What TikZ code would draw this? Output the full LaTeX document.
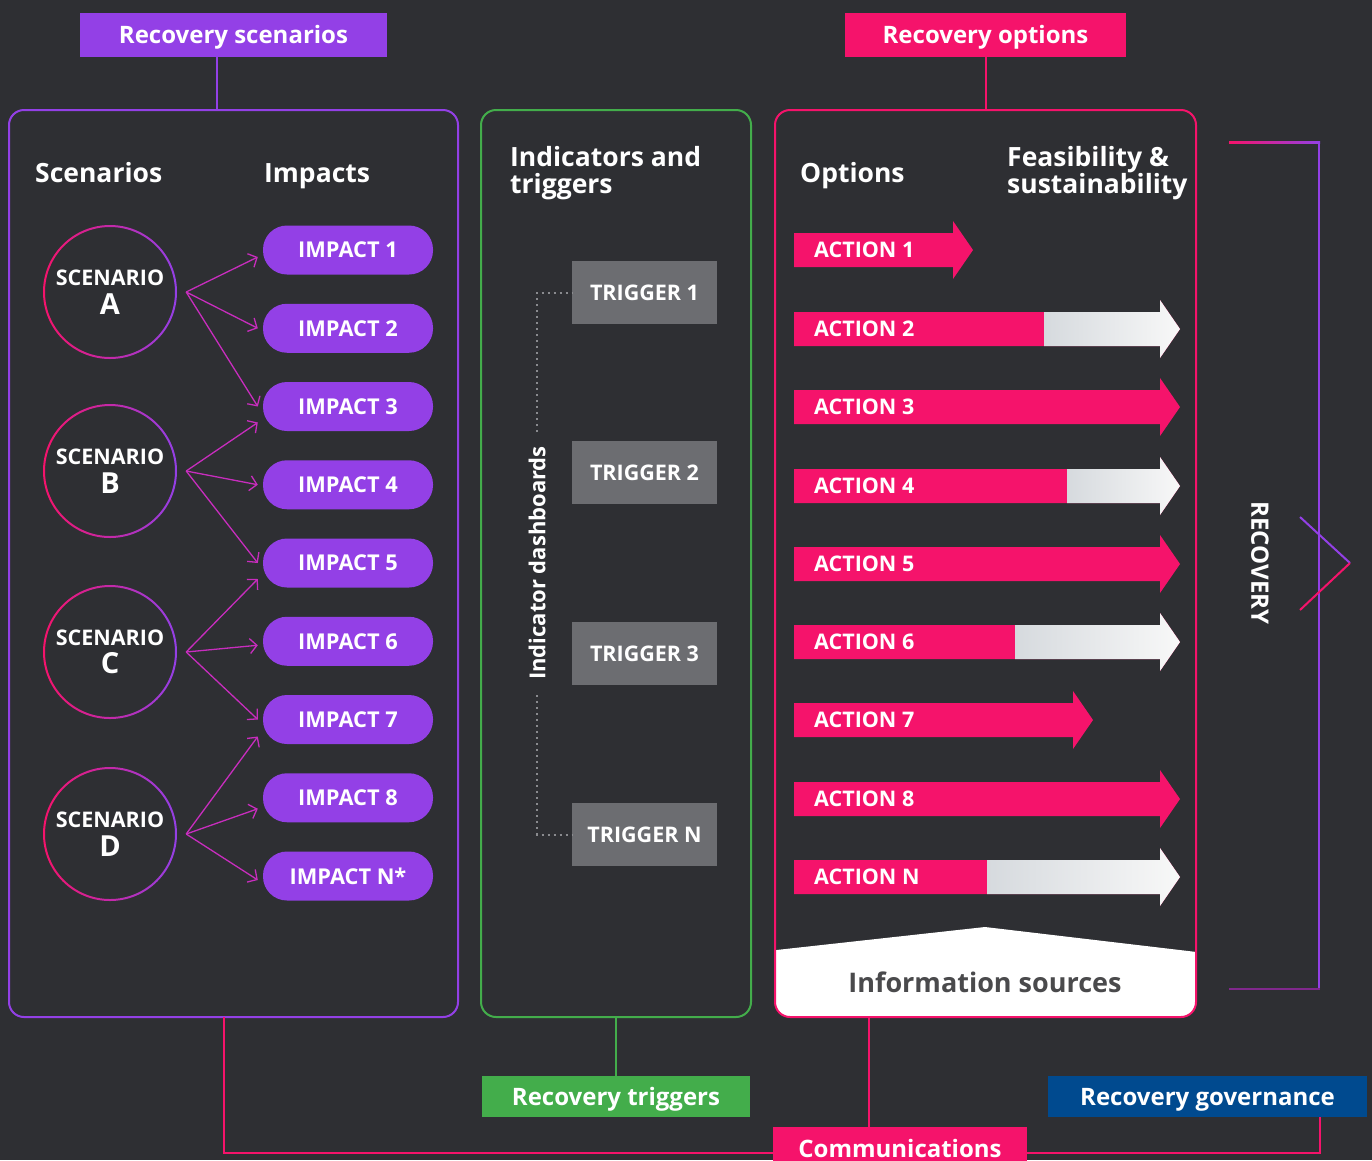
\documentclass[tikz,border=0pt]{standalone}
\usepackage{fontspec}
\setmainfont{Open Sans}
\usetikzlibrary{arrows.meta,positioning}

\definecolor{bgdark}{RGB}{46,47,51}
\definecolor{recpurple}{RGB}{147,64,230}
\definecolor{recpink}{RGB}{245,19,107}
\definecolor{recgreen}{RGB}{67,173,75}
\definecolor{recblue}{RGB}{0,74,143}
\definecolor{triggray}{RGB}{108,109,113}
\definecolor{dotgray}{RGB}{138,139,143}
\definecolor{infogray}{RGB}{74,74,76}
\definecolor{fadegray}{RGB}{214,218,222}
\definecolor{fadewhite}{RGB}{248,248,248}
\definecolor{linkmix}{RGB}{200,45,190}
\definecolor{darkplum}{RGB}{128,40,140}

\tikzset{
  panel/.style={draw=#1, line width=2pt, rounded corners=15pt, minimum height=907pt, inner sep=0pt},
  labelbox/.style={fill=#1, text=white, font=\fontsize{24}{30}\selectfont\bfseries, minimum height=44pt, inner sep=0pt, text height=17pt, text depth=0pt},
  heading/.style={text=white, font=\fontsize{26.5}{27}\selectfont\bfseries, inner sep=0pt, align=left},
  pill/.style={fill=recpurple, rounded corners=24pt, minimum width=170pt, minimum height=49pt, text=white, font=\fontsize{21.8}{26}\selectfont\bfseries},
  scen/.style={circle, minimum size=132pt, inner sep=0pt, text=white, align=center, font=\fontsize{21.5}{28.5}\selectfont\bfseries},
  trigbox/.style={fill=triggray, minimum width=145pt, minimum height=63pt, text=white, font=\fontsize{21.5}{26}\selectfont\bfseries},
  acttext/.style={anchor=west, text=white, inner sep=0pt, font=\fontsize{21.5}{26}\selectfont\bfseries},
  link/.style={line width=1.3pt, draw=linkmix, -{Straight Barb[length=7pt,width=15pt]}},
  dots/.style={draw=dotgray, line width=2pt, dash pattern=on 2pt off 4pt},
  joint/.style={line width=2pt, draw=#1},
}

\begin{document}
\begin{tikzpicture}[x=1pt, y=-1pt]
\fill[bgdark] (0,0) rectangle (1372,1160);
\clip (0,0) rectangle (1372,1160);

% white footer of the options panel
\begin{scope}
  \clip (770,950.7) -- (985,927) -- (1200,952.4) -- (1200,1030) -- (770,1030) -- cycle;
  \fill[white, rounded corners=15pt] (775,110) rectangle (1196,1017);
\end{scope}

% the three panels
\node[panel=recpurple, minimum width=449pt] (scenpanel) at (233.5,563.5) {};
\node[panel=recgreen, minimum width=270pt] (trigpanel) at (616,563.5) {};
\node[panel=recpink, minimum width=421pt] (optpanel) at (985.5,563.5) {};

% labels round the panels
\node[labelbox=recpurple, minimum width=307pt] (recscen) at (233.5,35) {Recovery scenarios};
\node[labelbox=recpink, minimum width=281pt] (recopt) at (985.5,35) {Recovery options};
\node[labelbox=recgreen, minimum width=268pt, minimum height=41pt] (rectrig) at (616,1096.5) {Recovery triggers};
\node[labelbox=recblue, minimum width=319pt, minimum height=41pt] (recgov) at (1207.5,1096.5) {Recovery governance};
\node[labelbox=recpink, minimum width=254pt, anchor=north] (comms) at (900,1127) {Communications};

\draw[joint=recpurple] ([xshift=-16.5pt]recscen.south) -- ([xshift=-16.5pt]scenpanel.north);
\draw[joint=recpink] (recopt.south) -- (optpanel.north);
\draw[joint=recgreen] (trigpanel.south) -- (rectrig.north);
\coordinate (cl) at (224,1017);
\coordinate (cm) at (869,1017);
\coordinate (cg) at (1320,1117);
\draw[joint=recpink] (cl) |- ([yshift=-4pt]comms.west);
\draw[joint=recpink] (cm) -- (cm |- comms.north);
\draw[joint=recpink] (cg) |- ([yshift=-4pt]comms.east);

% headings
\node[heading, anchor=base west] (hscen) at (35,182) {Scenarios};
\node[heading, anchor=base west] (himp) at (264,182) {Impacts};
\node[heading, anchor=north west] (hind) at (510,146) {Indicators and\\triggers};
\node[heading, anchor=base west] (hopt) at (800,182) {Options};
\node[heading, anchor=north west] (hfeas) at (1007,146) {Feasibility \&\\sustainability};

% scenarios and impacts
\foreach \id/\txt [count=\k from 0] in {1/1,2/2,3/3,4/4,5/5,6/6,7/7,8/8,N/N*}
  \node[pill] (i\id) at (348,{250+78.25*\k}) {IMPACT \txt};
\foreach \l/\y in {A/292,B/471,C/652,D/834} {
  \node[scen] (s\l) at (110,\y) {SCENARIO\\{\fontsize{29}{29}\selectfont\l}};
  \shade[left color=recpink, right color=recpurple, even odd rule]
    (s\l.center) circle (67pt) (s\l.center) circle (65pt);
}
\foreach \s/\i/\dy in {A/1/-7,A/2/0,A/3/0,B/3/-16,B/4/0,B/5/0,C/5/-16,C/6/-4,C/7/0,D/7/-17,D/8/-11,D/N/-4}
  \draw[link] ([xshift=10pt]s\s.east) -- ([xshift=-5pt,yshift=\dy pt]i\i.west);

% triggers
\foreach \n/\y in {1/292.5,2/472.5,3/653.5,N/834.5}
  \node[trigbox] (t\n) at (644.5,\y) {TRIGGER \n};
\coordinate (dtop) at (537,432);
\coordinate (dbot) at (537,695);
\draw[dots] (dtop) |- (t1.west);
\draw[dots] (dbot) |- (tN.west);
\node[rotate=90, text=white, font=\fontsize{22}{26}\selectfont\bfseries] (dash) at (537,563) {Indicator dashboards};

% options
\foreach \n/\y/\tip in {1/250/973,2/329/1180,3/407/1180,4/486/1180,5/564/1180,6/642/1180,7/720/1093,8/799/1180,N/877/1180} {
  \fill[recpink] (794,{\y-17}) -| ({\tip-20},{\y-29}) -- (\tip,\y) -- ({\tip-20},{\y+29}) |- (794,{\y+17}) -- cycle;
  \node[acttext] (a\n) at (814,\y) {ACTION \n};
}
\foreach \y/\s in {329/1044,486/1067,642/1015,877/987}
  \shade[left color=fadegray, right color=fadewhite] (\s,{\y-17}) -| (1160,{\y-29}) -- (1180,\y) -- (1160,{\y+29}) |- (\s,{\y+17}) -- cycle;
\node[text=infogray, font=\fontsize{27}{30}\selectfont\bfseries] (info) at (985,982) {Information sources};

% recovery bracket
\shade[left color=recpink, right color=recpurple] (1229,141) rectangle (1320,143);
\draw[recpurple, line width=2pt] (1319,142) -- (1319,989);
\draw[darkplum, line width=2pt] (1229,989) -- (1320,989);
\draw[recpurple, line width=2pt] (1300,517) -- (1350,563);
\draw[recpink, line width=2pt] (1350,563) -- (1300,610);
\node[rotate=-90, text=white, font=\fontsize{24}{28}\selectfont\bfseries] (recov) at (1260,563) {RECOVERY};
\end{tikzpicture}
\end{document}
